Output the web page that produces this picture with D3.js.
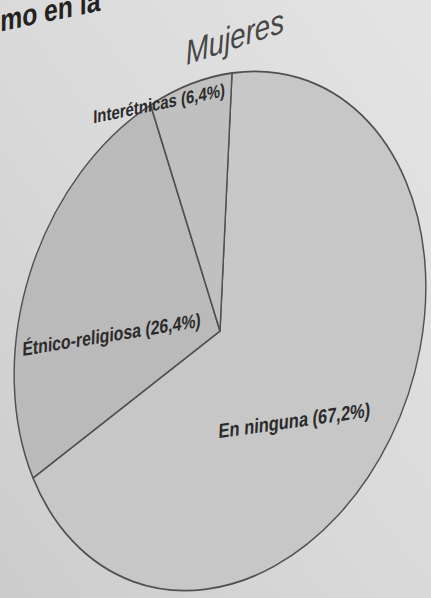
<!DOCTYPE html>
<html>
<head>
<meta charset="utf-8">
<script src="https://cdn.jsdelivr.net/npm/d3@7"></script>
<style>
  html, body { margin: 0; padding: 0; overflow: hidden; }
  body { width: 431px; height: 598px; }
  svg { display: block; }
</style>
</head>
<body>
<svg id="chart" width="431" height="598"></svg>
<script>
// Distribution of women by type of mixed marriage
const categories = ["En ninguna", "Étnico-religiosa", "Interétnicas"];
const values = [67.2, 26.4, 6.4];
const fills = ["#c7c7c7", "#bababa", "#c0c0c0"];
const chartTitle = "Mujeres";
const headline = "mo en la";

const W = 431, H = 598;
const R = 200; // pie radius in slide units

const svg = d3.select("#chart");
const defs = svg.append("defs");

// slide lighting: brighter upper right, darker lower left
const bg = defs.append("linearGradient").attr("id", "bg")
  .attr("x1", "100%").attr("y1", "0%").attr("x2", "0%").attr("y2", "100%");
bg.append("stop").attr("offset", "0%").attr("stop-color", "#e4e4e4");
bg.append("stop").attr("offset", "55%").attr("stop-color", "#d9d9d9");
bg.append("stop").attr("offset", "100%").attr("stop-color", "#cccccc");
svg.append("rect").attr("width", W).attr("height", H).attr("fill", "url(#bg)");

// slide plane seen at an angle
const plane = svg.append("g")
  .attr("transform", "matrix(1.0275,-0.145,-0.06,1.29,220,331)");

const pie = d3.pie().sort(null).value(d => d)
  .startAngle(0).endAngle(2 * Math.PI);
const arc = d3.arc().innerRadius(0).outerRadius(R);
const arcs = pie(values);

plane.selectAll("path.slice")
  .data(arcs)
  .join("path")
  .attr("class", "slice")
  .attr("d", arc)
  .attr("fill", (d, i) => fills[i])
  .attr("stroke", "#505050")
  .attr("stroke-width", 1.4)
  .attr("stroke-linejoin", "round");

const fmt = v => d3.format(".1f")(v).replace(".", ",");
const labelText = categories.map((c, i) => `${c} (${fmt(values[i])}%)`);

// label anchors in slide units, with a little extra tilt toward the top
const labelPos = [
  { x: 77, y: 78, rot: 0, size: 16 },
  { x: -106, y: -9, rot: -1, size: 15.4 },
  { x: -70, y: -184, rot: -3, size: 14.5 }
];

plane.selectAll("text.lbl")
  .data(labelText)
  .join("text")
  .attr("class", "lbl")
  .attr("transform", (d, i) => `translate(${labelPos[i].x},${labelPos[i].y}) rotate(${labelPos[i].rot})`)
  .attr("text-anchor", "middle")
  .attr("dominant-baseline", "central")
  .attr("font-family", "'Liberation Sans', Arial, sans-serif")
  .attr("font-weight", "bold")
  .attr("font-size", (d, i) => labelPos[i].size)
  .attr("fill", "#2b2b2b")
  .text(d => d);

plane.append("text")
  .attr("transform", "translate(1,-228) rotate(-9)")
  .attr("text-anchor", "middle")
  .attr("dominant-baseline", "central")
  .attr("font-family", "'Liberation Sans', Arial, sans-serif")
  .attr("font-style", "italic")
  .attr("font-size", 27)
  .attr("fill", "#474747")
  .text(chartTitle);

plane.append("text")
  .attr("transform", "translate(-229,-258) rotate(-3)")
  .attr("text-anchor", "start")
  .attr("font-family", "'Liberation Sans', Arial, sans-serif")
  .attr("font-weight", "bold")
  .attr("font-size", 24)
  .attr("fill", "#222")
  .text(headline);
</script>
</body>
</html>
